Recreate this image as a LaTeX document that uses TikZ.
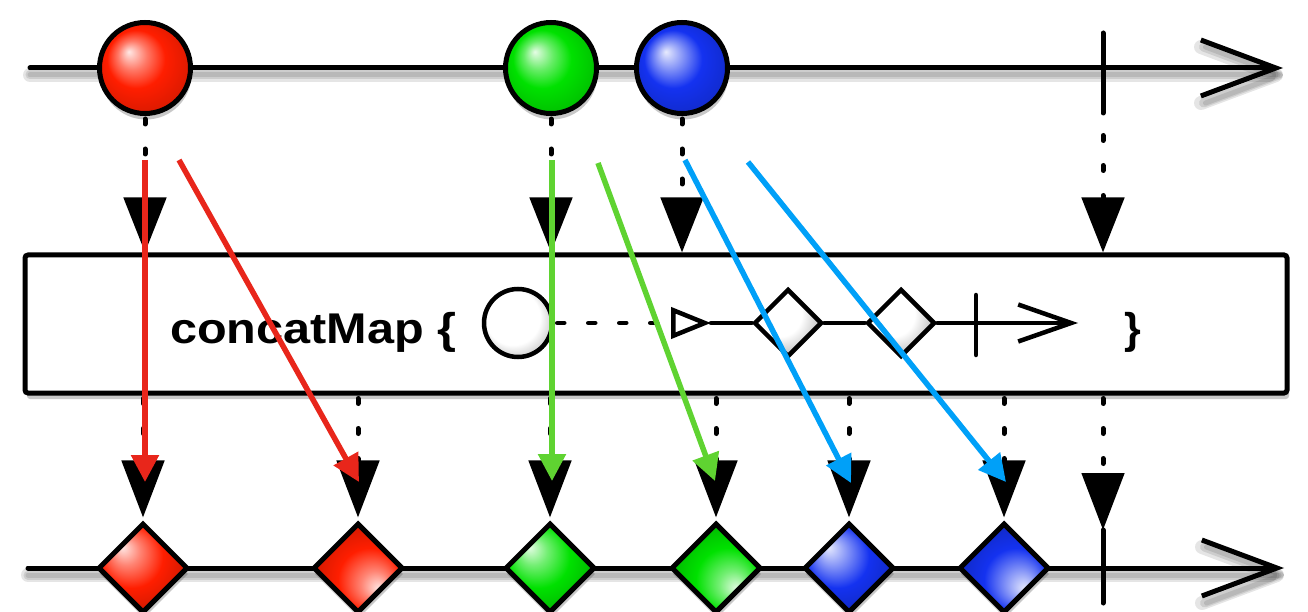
\documentclass[tikz,border=0pt]{standalone}
\usepackage{fontspec}
\usepackage{graphicx}
\newfontfamily\hv{Liberation Sans}
\usetikzlibrary{arrows.meta,shapes.geometric,shadows,calc}

\definecolor{redA}{RGB}{232,38,27}
\definecolor{greenA}{RGB}{95,211,49}
\definecolor{blueA}{RGB}{0,160,248}
\definecolor{ballR}{RGB}{255,30,0}
\definecolor{ballG}{RGB}{0,225,0}
\definecolor{ballB}{RGB}{20,50,240}

% shading geometry: the path bounding box maps to +-25bp
\pgfdeclareradialshading{redball}{\pgfpoint{-9bp}{9bp}}{color(0bp)=(ballR!10!white); color(8bp)=(ballR!60!white); color(16bp)=(ballR); color(28bp)=(ballR!85!black); color(35bp)=(ballR!60!black)}
\pgfdeclareradialshading{greenball}{\pgfpoint{-9bp}{9bp}}{color(0bp)=(ballG!10!white); color(8bp)=(ballG!60!white); color(16bp)=(ballG); color(28bp)=(ballG!85!black); color(35bp)=(ballG!60!black)}
\pgfdeclareradialshading{blueball}{\pgfpoint{-9bp}{9bp}}{color(0bp)=(ballB!10!white); color(8bp)=(ballB!55!white); color(16bp)=(ballB); color(28bp)=(ballB!85!black); color(35bp)=(ballB!60!black)}
\pgfdeclareradialshading{whiteball}{\pgfpoint{-9bp}{9bp}}{color(0bp)=(white); color(20bp)=(white); color(28bp)=(black!20); color(35bp)=(black!50)}

\pgfdeclareradialshading{redTL}{\pgfpoint{-12bp}{12bp}}{color(0bp)=(ballR!10!white); color(8bp)=(ballR!55!white); color(18bp)=(ballR); color(30bp)=(ballR!80!black); color(40bp)=(ballR!55!black)}
\pgfdeclareradialshading{redBR}{\pgfpoint{12bp}{-12bp}}{color(0bp)=(ballR!10!white); color(8bp)=(ballR!55!white); color(18bp)=(ballR); color(30bp)=(ballR!80!black); color(40bp)=(ballR!55!black)}
\pgfdeclareradialshading{greenTL}{\pgfpoint{-12bp}{12bp}}{color(0bp)=(ballG!10!white); color(8bp)=(ballG!55!white); color(18bp)=(ballG); color(30bp)=(ballG!80!black); color(40bp)=(ballG!55!black)}
\pgfdeclareradialshading{greenBR}{\pgfpoint{12bp}{-12bp}}{color(0bp)=(ballG!10!white); color(8bp)=(ballG!55!white); color(18bp)=(ballG); color(30bp)=(ballG!80!black); color(40bp)=(ballG!55!black)}
\pgfdeclareradialshading{blueTL}{\pgfpoint{-12bp}{12bp}}{color(0bp)=(ballB!10!white); color(8bp)=(ballB!50!white); color(18bp)=(ballB); color(30bp)=(ballB!80!black); color(40bp)=(ballB!55!black)}
\pgfdeclareradialshading{blueBR}{\pgfpoint{12bp}{-12bp}}{color(0bp)=(ballB!10!white); color(8bp)=(ballB!50!white); color(18bp)=(ballB); color(30bp)=(ballB!80!black); color(40bp)=(ballB!55!black)}
\pgfdeclareradialshading{whiteTL}{\pgfpoint{-12bp}{12bp}}{color(0bp)=(white); color(17bp)=(white); color(28bp)=(black!25); color(38bp)=(black!50)}

\tikzset{
  tl/.style={line width=5pt, line cap=round},
  tlshadow/.style={transform canvas={yshift=-7pt}, draw=black, line width=#1, opacity=0.1, line cap=round},
  nshadow/.style={drop shadow={shadow xshift=1pt, shadow yshift=-6pt, opacity=0.3, fill=black!70}},
  ball/.style={circle, draw=black, line width=5pt, minimum size=91pt, inner sep=0pt, nshadow, shade, shading=#1},
  dia/.style={diamond, draw=black, line width=5pt, minimum width=90pt, minimum height=90pt, inner sep=0pt, nshadow, shade, shading=#1},
  dotc/.style={line width=5pt, line cap=round, dash pattern=on 5pt off 25pt, dash phase=#1},
  dotc/.default=27pt,
  bigtri/.style={-{Triangle[length=#1,width=42pt]}},
  bigtri/.default=55pt,
  carr/.style={line width=5.5pt, -{Triangle[length=27pt,width=27pt]}},
  ic/.style={circle, draw=black, line width=4.5pt, minimum size=68pt, inner sep=0pt, shade, shading=whiteball},
  idia/.style={diamond, draw=black, line width=4.5pt, minimum width=68pt, minimum height=68pt, inner sep=0pt, shade, shading=whiteTL},
  il/.style={line width=4.5pt, line cap=round},
  boxst/.style={rectangle, draw=black, line width=5pt, rounded corners=3pt, fill=white, minimum width=1262pt, minimum height=138pt, inner sep=0pt, drop shadow={shadow xshift=2pt, shadow yshift=-6pt, opacity=0.3, fill=black!70}},
  lbl/.style={anchor=base west, inner sep=0pt, font=\fontsize{43}{50}\selectfont\hv\bfseries}
}

\begin{document}
\begin{tikzpicture}[x=1pt,y=-1pt]
\useasboundingbox (0,0) rectangle (1308,612);
\fill[white] (0,0) rectangle (1308,612);

% timeline coordinates
\coordinate (ts) at (30,68);
\coordinate (te) at (1283,68);
\coordinate (bs) at (28,568);
\coordinate (be) at (1284,568);

% timeline shadows
\foreach \w in {14,9,5}{
  \draw[tlshadow=\w pt, -{Straight Barb[round,length=75pt,width=56pt]}] (ts) -- (te);
  \draw[tlshadow=\w pt, -{Straight Barb[round,length=75pt,width=56pt]}] (bs) -- (be);
}
% timelines
\draw[tl, -{Straight Barb[length=75pt,width=56pt]}] (ts) -- (te);
\draw[tl, -{Straight Barb[length=75pt,width=56pt]}] (bs) -- (be);

% operator box
\node[boxst] (box) at (656,324) {};
\node[lbl] (txt) at (170,343) {\scalebox{1.13}[1]{concatMap \{}};
\node[lbl] (rbrace) at (1124,343) {\}};

% inner chain
\node[ic] (c0) at (518,323) {};
\coordinate (tri) at (711,323);
\draw[line width=4.5pt, line cap=round, dash pattern=on 7pt off 24pt, dash phase=28pt, -{Triangle[open,length=40pt,width=31pt]}] (c0) -- (tri);
\node[idia] (id1) at (788,323) {};
\node[idia] (id2) at (901,323) {};
\coordinate (iend) at (1078,323);
\coordinate (ibt) at (976,295);
\coordinate (ibb) at (976,355);
\draw[il] (tri) -- (id1);
\draw[il] (id1) -- (id2);
\draw[il, -{Straight Barb[length=53pt,width=37pt]}] (id2) -- (iend);
\draw[il] (ibt) -- (ibb);

% terminal bars
\coordinate (tbt) at (1103,33);
\coordinate (tbb) at (1103,113);
\draw[tl] (tbt) -- (tbb);
\coordinate (bbt) at (1103,530);
\coordinate (bbb) at (1103,603);
\draw[tl] (bbt) -- (bbb);

% balls
\node[ball=redball] (r) at (145,68) {};
\node[ball=greenball] (g) at (551,68) {};
\node[ball=blueball] (b) at (682,68) {};

% diamonds
\node[dia=redTL] (d1) at (143,568) {};
\node[dia=redBR] (d2) at (358,568) {};
\node[dia=greenTL] (d3) at (550,568) {};
\node[dia=greenBR] (d4) at (716,568) {};
\node[dia=blueTL] (d5) at (849,568) {};
\node[dia=blueBR] (d6) at (1004,568) {};

% black connectors top
\draw[dotc, bigtri] (r) -- (r |- box.north);
\draw[dotc, bigtri] (g) -- (g |- box.north);
\draw[dotc, bigtri] (b) -- (b |- box.north);
\draw[dotc=7.5pt, bigtri] (tbb) -- (tbb |- box.north);

% black connectors bottom
\foreach \d in {d1,d2,d3,d4,d5,d6}{
  \draw[dotc, bigtri=57pt, shorten >=3pt] (box.south -| \d) -- (\d);
}
\draw[dotc, bigtri=57pt] (box.south -| bbt) -- (bbt);

% coloured arrows
\coordinate (rs1) at (145,160); \coordinate (re1) at (145,482);
\coordinate (rs2) at (179,160); \coordinate (re2) at (359,482);
\coordinate (gs1) at (552,160); \coordinate (ge1) at (552,481);
\coordinate (gs2) at (598,163); \coordinate (ge2) at (715,481);
\coordinate (bs1) at (685,160); \coordinate (be1) at (851,483);
\coordinate (bs2) at (748,162); \coordinate (be2) at (1006,482);
\draw[carr, redA] (rs1) -- (re1);
\draw[carr, redA] (rs2) -- (re2);
\draw[carr, greenA] (gs1) -- (ge1);
\draw[carr, greenA] (gs2) -- (ge2);
\draw[carr, blueA] (bs1) -- (be1);
\draw[carr, blueA] (bs2) -- (be2);
\end{tikzpicture}
\end{document}
